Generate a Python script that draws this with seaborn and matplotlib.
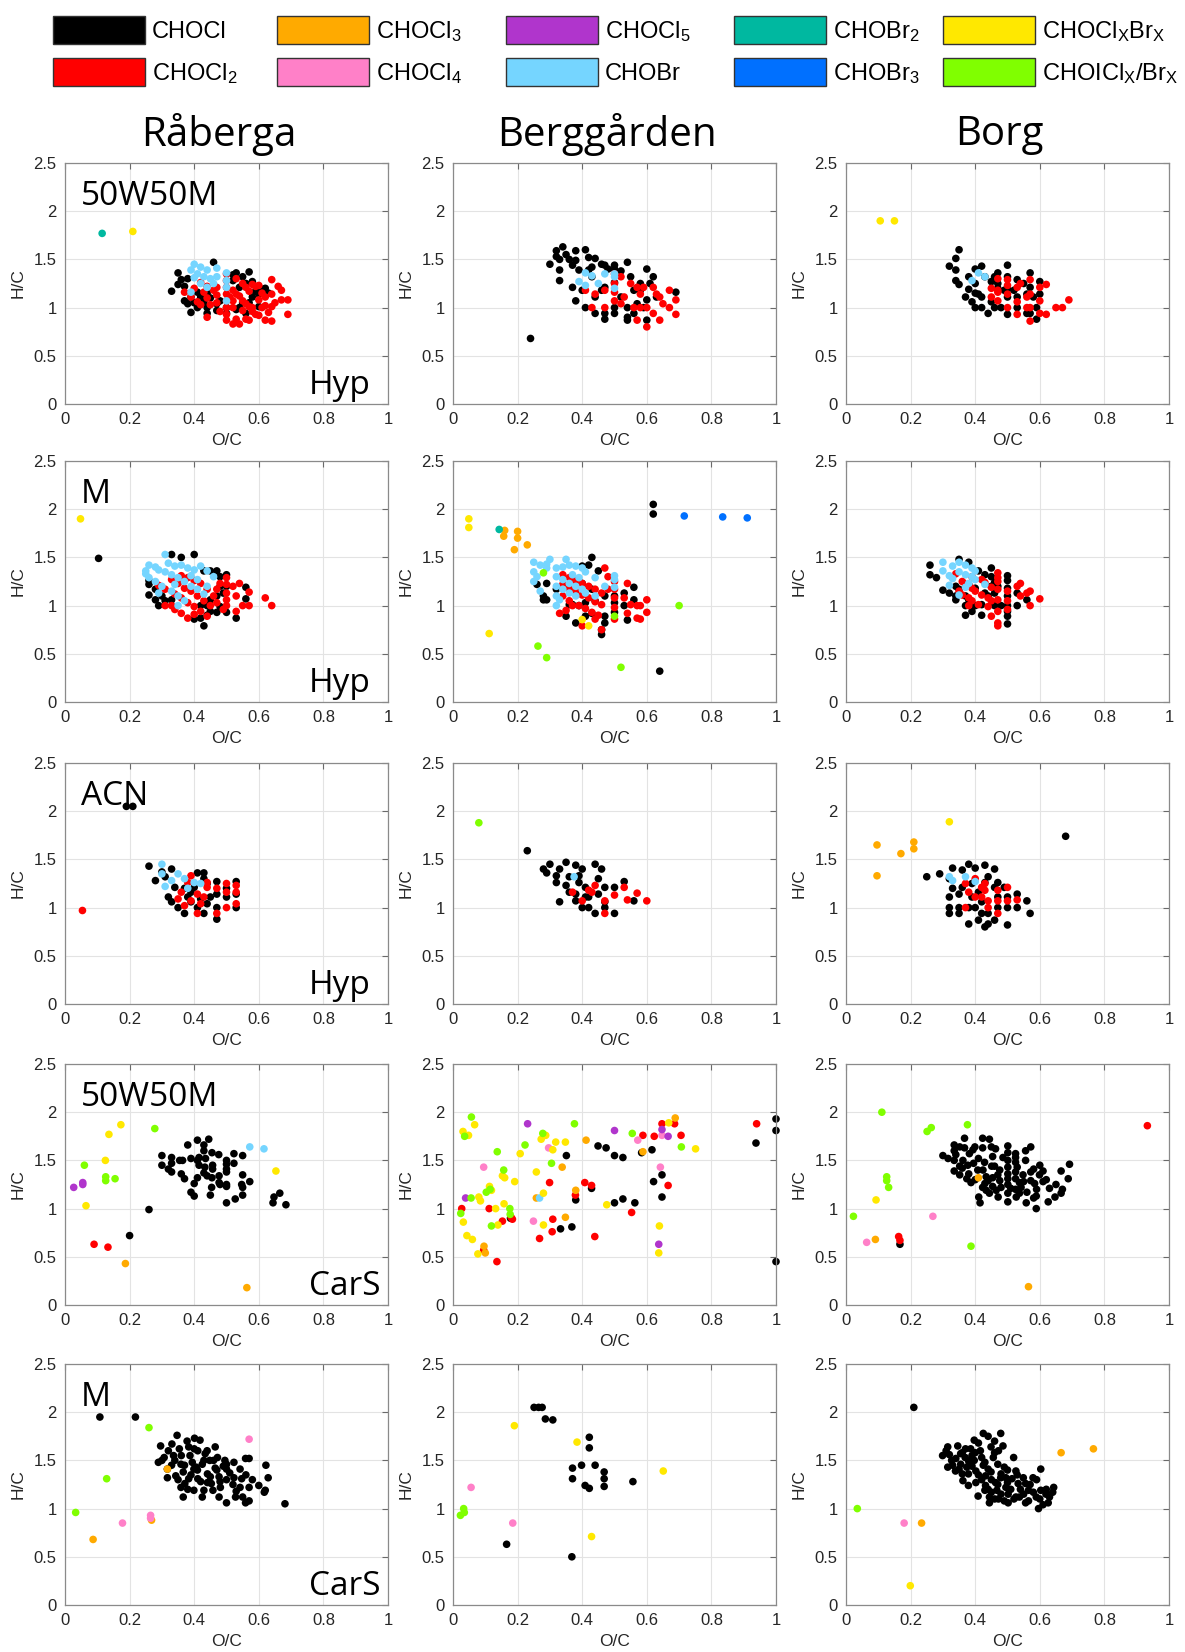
import matplotlib
matplotlib.use('Agg')
import matplotlib.pyplot as plt
import pandas as pd
import seaborn as sns
from matplotlib.patches import Rectangle

sns.set_theme(style='white')
plt.rcParams['font.family'] = ['Liberation Sans', 'DejaVu Sans']
plt.rcParams['mathtext.default'] = 'regular'

# ---------------- categories / labels ----------------
classes = ['CHOCl', 'CHOCl2', 'CHOCl3', 'CHOCl4', 'CHOCl5',
           'CHOBr', 'CHOBr2', 'CHOBr3', 'CHOClxBrx', 'CHOIClxBrx']
legend_labels = ['CHOCl', 'CHOCl$_2$', 'CHOCl$_3$', 'CHOCl$_4$', 'CHOCl$_5$',
                 'CHOBr', 'CHOBr$_2$', 'CHOBr$_3$', 'CHOCl$_X$Br$_X$', 'CHOICl$_X$/Br$_X$']
colors = ['#000000', '#FF0000', '#FFAA00', '#FF80C8', '#B035CC',
          '#75D5FF', '#00B8A0', '#0070FF', '#FFE800', '#80FF00']
sites = ['Råberga', 'Berggården', 'Borg']
solvents = ['50W50M', 'M', 'ACN', '50W50M', 'M']
methods = ['Hyp', 'Hyp', 'Hyp', 'CarS', 'CarS']
x_ticks = [0, 0.2, 0.4, 0.6, 0.8, 1]
x_ticklabels = ['0', '0.2', '0.4', '0.6', '0.8', '1']
y_ticks = [0, 0.5, 1, 1.5, 2, 2.5]
y_ticklabels = ['0', '0.5', '1', '1.5', '2', '2.5']

# ---------------- data: (O/C, H/C) ----------------
# Row 1: 50W50M Hyp
p11_CHOCl = [(0.33,1.17),(0.35,1.36),(0.35,1.24),(0.37,1.22),(0.37,1.07),(0.38,1.30),(0.39,0.95),(0.39,1.11),(0.41,1.00),(0.42,1.11),(0.44,0.94),(0.44,1.00),(0.46,1.47),(0.47,1.04),(0.50,0.94),(0.50,1.00),(0.53,1.36),(0.55,1.32),(0.57,1.37),(0.54,1.21),(0.54,1.00),(0.56,0.94),(0.58,1.11),(0.60,1.14),(0.62,1.20),(0.60,1.01),(0.40,1.05),(0.43,1.06),(0.56,1.25),(0.59,1.17),(0.52,1.28),(0.55,1.05),(0.45,1.10),(0.36,1.29),(0.38,1.04),(0.41,1.16),(0.44,1.15),(0.48,1.07),(0.52,1.34),(0.58,1.27),(0.61,1.19),(0.63,1.15),(0.47,0.97),(0.53,0.98),(0.57,1.05)]
p11_CHOCl2 = [(0.37,1.16),(0.39,1.11),(0.41,1.06),(0.42,1.26),(0.44,1.22),(0.44,1.10),(0.44,0.90),(0.46,1.18),(0.47,1.21),(0.47,1.05),(0.50,1.35),(0.50,1.28),(0.50,1.21),(0.50,1.14),(0.50,1.07),(0.50,1.00),(0.50,0.93),(0.50,0.87),(0.52,1.07),(0.52,0.83),(0.53,1.14),(0.55,1.07),(0.55,0.97),(0.56,1.21),(0.57,0.87),(0.58,1.24),(0.59,0.93),(0.60,1.23),(0.61,1.00),(0.62,1.02),(0.62,0.87),(0.64,1.01),(0.64,0.86),(0.64,1.29),(0.64,1.14),(0.67,1.18),(0.67,1.08),(0.69,1.08),(0.69,0.93),(0.53,1.30),(0.55,1.25),(0.57,1.17),(0.58,1.00),(0.62,1.11),(0.40,1.20),(0.43,1.16),(0.52,1.00),(0.60,1.08),(0.51,1.11),(0.52,1.18),(0.54,1.12),(0.56,1.04),(0.57,1.01),(0.58,0.96),(0.60,0.92),(0.63,0.95),(0.65,1.05),(0.66,1.22),(0.61,1.15),(0.59,1.22),(0.47,1.13),(0.45,1.03),(0.42,1.03),(0.48,0.96),(0.54,0.83),(0.53,0.88),(0.56,0.88)]
p11_CHOBr = [(0.39,1.39),(0.40,1.45),(0.42,1.42),(0.44,1.39),(0.47,1.41),(0.50,1.36),(0.50,1.28),(0.50,1.21),(0.50,1.07),(0.40,1.31),(0.42,1.25),(0.44,1.21),(0.46,1.25),(0.43,1.32),(0.39,1.16),(0.47,1.32),(0.41,1.35),(0.45,1.30)]
p11_CHOBr2 = [(0.115,1.77)]
p11_CHOClxBrx = [(0.21,1.79)]

p12_CHOCl = [(0.30,1.45),(0.32,1.53),(0.33,1.50),(0.33,1.39),(0.33,1.28),(0.34,1.63),(0.35,1.55),(0.37,1.44),(0.37,1.21),(0.38,1.07),(0.38,1.59),(0.38,1.49),(0.39,1.39),(0.40,1.18),(0.41,1.60),(0.42,1.52),(0.43,1.42),(0.43,1.32),(0.44,1.11),(0.44,1.51),(0.46,1.45),(0.47,1.44),(0.48,1.40),(0.47,1.21),(0.44,0.94),(0.47,0.94),(0.47,0.88),(0.50,1.44),(0.50,1.40),(0.50,1.00),(0.50,0.94),(0.52,1.11),(0.54,1.47),(0.54,0.90),(0.54,0.87),(0.56,1.18),(0.56,0.94),(0.58,1.25),(0.60,1.40),(0.59,1.00),(0.60,0.87),(0.62,1.32),(0.63,1.11),(0.69,1.16),(0.24,0.68),(0.42,1.39),(0.50,1.26),(0.55,1.32),(0.57,1.04),(0.58,1.18),(0.61,1.25),(0.46,1.18),(0.41,1.00),(0.54,1.00),(0.32,1.59),(0.36,1.50),(0.52,1.38),(0.60,1.08)]
p12_CHOCl2 = [(0.41,1.18),(0.44,1.14),(0.47,1.18),(0.47,1.00),(0.50,1.35),(0.50,1.25),(0.50,1.16),(0.50,1.07),(0.52,1.04),(0.53,1.11),(0.55,1.25),(0.57,1.21),(0.58,1.14),(0.59,1.21),(0.62,1.21),(0.64,1.11),(0.65,1.04),(0.67,1.18),(0.67,1.00),(0.69,1.08),(0.69,0.93),(0.57,0.87),(0.60,0.80),(0.62,0.94),(0.64,0.87),(0.56,1.00),(0.58,1.00),(0.60,1.00),(0.43,1.00),(0.52,1.32),(0.63,1.14)]
p12_CHOBr = [(0.39,1.27),(0.41,1.36),(0.43,1.33),(0.45,1.25),(0.47,1.35),(0.50,1.35),(0.50,1.32),(0.50,1.20),(0.41,1.23)]

p13_CHOCl = [(0.35,1.60),(0.34,1.51),(0.32,1.43),(0.34,1.39),(0.34,1.28),(0.35,1.24),(0.38,1.32),(0.37,1.11),(0.38,1.19),(0.39,1.06),(0.40,1.40),(0.40,1.25),(0.40,1.15),(0.40,1.00),(0.41,1.14),(0.42,1.43),(0.42,1.11),(0.42,1.00),(0.43,1.32),(0.44,0.94),(0.45,1.27),(0.46,1.32),(0.47,1.25),(0.47,1.36),(0.47,1.20),(0.46,1.00),(0.48,1.00),(0.50,1.44),(0.50,1.32),(0.50,1.19),(0.50,1.11),(0.50,0.93),(0.53,1.29),(0.53,1.11),(0.53,1.00),(0.55,1.25),(0.56,1.14),(0.56,0.94),(0.57,1.36),(0.57,1.21),(0.58,1.11),(0.59,1.00),(0.60,1.27),(0.60,1.14),(0.59,0.88),(0.57,0.94),(0.45,1.06),(0.49,1.18),(0.52,1.18)]
p13_CHOCl2 = [(0.47,1.30),(0.45,1.20),(0.45,1.11),(0.47,1.07),(0.47,1.16),(0.50,1.29),(0.50,1.23),(0.50,1.14),(0.50,1.00),(0.53,0.93),(0.53,1.21),(0.54,1.25),(0.53,1.06),(0.56,1.11),(0.57,1.14),(0.57,1.29),(0.57,1.00),(0.57,0.86),(0.60,1.21),(0.60,1.07),(0.60,0.94),(0.62,1.24),(0.62,0.93),(0.65,1.00),(0.67,1.00),(0.69,1.08),(0.47,1.18),(0.56,1.00)]
p13_CHOBr = [(0.39,1.28),(0.41,1.36),(0.43,1.32)]
p13_CHOClxBrx = [(0.106,1.90),(0.15,1.90)]

# Row 2: M Hyp
p21_CHOCl = [(0.104,1.49),(0.26,1.26),(0.26,1.22),(0.26,1.11),(0.28,1.06),(0.29,1.00),(0.31,1.05),(0.33,1.53),(0.40,1.53),(0.36,1.50),(0.43,1.36),(0.45,1.36),(0.47,1.36),(0.48,1.30),(0.50,1.32),(0.48,1.20),(0.48,0.99),(0.47,0.93),(0.45,0.94),(0.44,0.90),(0.42,0.87),(0.40,0.86),(0.43,0.79),(0.50,0.93),(0.53,0.87),(0.56,1.19),(0.56,1.07),(0.50,1.20),(0.49,1.13),(0.47,1.10),(0.45,1.06),(0.33,1.06),(0.28,1.17),(0.30,1.10),(0.44,1.00),(0.42,1.00)]
p21_CHOCl2 = [(0.29,1.21),(0.31,1.17),(0.34,1.12),(0.36,1.08),(0.38,1.03),(0.40,0.99),(0.42,0.94),(0.44,0.89),(0.33,1.27),(0.35,1.23),(0.37,1.18),(0.39,1.15),(0.41,1.10),(0.43,1.05),(0.45,1.00),(0.47,1.17),(0.36,1.31),(0.38,1.29),(0.40,1.26),(0.42,1.23),(0.44,1.17),(0.46,1.10),(0.48,1.23),(0.50,1.29),(0.50,1.22),(0.50,1.13),(0.50,1.06),(0.50,1.00),(0.52,1.20),(0.53,1.10),(0.54,1.23),(0.53,0.94),(0.55,1.00),(0.57,1.14),(0.57,1.00),(0.62,1.08),(0.64,1.00),(0.38,0.87),(0.40,0.91),(0.31,1.00),(0.34,0.96),(0.36,0.92),(0.33,1.00),(0.47,1.03),(0.49,0.96)]
p21_CHOBr = [(0.25,1.36),(0.26,1.42),(0.28,1.40),(0.29,1.37),(0.31,1.35),(0.33,1.32),(0.35,1.29),(0.37,1.25),(0.39,1.20),(0.41,1.17),(0.43,1.12),(0.31,1.53),(0.34,1.41),(0.36,1.42),(0.38,1.39),(0.40,1.37),(0.42,1.41),(0.44,1.36),(0.46,1.30),(0.26,1.29),(0.28,1.25),(0.30,1.20),(0.33,1.15),(0.35,1.10),(0.37,1.05),(0.35,1.00),(0.29,1.13),(0.39,1.31),(0.41,1.27),(0.44,1.20),(0.25,1.33),(0.32,1.44),(0.34,1.22)]
p21_CHOClxBrx = [(0.048,1.90)]

p22_CHOCl = [(0.62,2.05),(0.62,1.95),(0.64,0.32),(0.43,1.50),(0.42,1.42),(0.40,1.41),(0.26,1.22),(0.28,1.06),(0.29,1.23),(0.56,1.19),(0.56,1.06),(0.53,1.13),(0.53,1.00),(0.50,1.10),(0.50,1.03),(0.50,0.93),(0.54,0.85),(0.47,0.89),(0.47,0.82),(0.46,0.75),(0.46,0.70),(0.38,0.82),(0.41,0.89),(0.43,0.92),(0.35,0.89),(0.36,1.01),(0.37,1.01),(0.39,1.00),(0.41,1.03),(0.44,1.05),(0.47,1.10),(0.43,1.17),(0.40,1.23),(0.37,1.27),(0.29,1.06),(0.32,1.17),(0.28,1.10),(0.45,1.36)]
p22_CHOCl2 = [(0.34,1.32),(0.36,1.29),(0.38,1.26),(0.40,1.23),(0.42,1.20),(0.44,1.17),(0.46,1.13),(0.34,1.22),(0.36,1.18),(0.38,1.15),(0.40,1.11),(0.42,1.08),(0.44,1.04),(0.46,1.01),(0.34,1.10),(0.36,1.05),(0.37,1.00),(0.39,1.00),(0.41,0.97),(0.43,0.93),(0.45,0.90),(0.47,1.39),(0.48,1.30),(0.48,1.17),(0.50,1.25),(0.50,1.17),(0.50,1.08),(0.50,0.98),(0.50,0.86),(0.54,1.23),(0.53,1.08),(0.54,0.92),(0.55,1.01),(0.57,1.00),(0.58,1.00),(0.60,1.06),(0.60,0.93),(0.57,0.87),(0.58,0.86),(0.40,0.79),(0.44,0.86),(0.46,0.75),(0.33,0.92),(0.35,0.95)]
p22_CHOCl3 = [(0.16,1.78),(0.157,1.72),(0.20,1.77),(0.20,1.70),(0.19,1.58),(0.23,1.63)]
p22_CHOBr = [(0.25,1.45),(0.27,1.42),(0.29,1.39),(0.32,1.39),(0.34,1.40),(0.36,1.42),(0.38,1.41),(0.40,1.39),(0.25,1.25),(0.26,1.30),(0.25,1.35),(0.30,1.48),(0.29,1.43),(0.32,1.30),(0.32,1.20),(0.32,1.10),(0.32,1.00),(0.34,1.27),(0.34,1.17),(0.36,1.23),(0.36,1.13),(0.38,1.20),(0.38,1.10),(0.40,1.17),(0.41,1.13),(0.44,1.10),(0.41,1.35),(0.44,1.29),(0.47,1.20),(0.50,1.31),(0.50,1.27),(0.50,1.19),(0.27,1.15),(0.35,1.48),(0.37,1.32),(0.39,1.29),(0.33,1.06)]
p22_CHOBr2 = [(0.143,1.79)]
p22_CHOBr3 = [(0.716,1.93),(0.835,1.92),(0.911,1.91)]
p22_CHOClxBrx = [(0.049,1.90),(0.049,1.81),(0.112,0.71),(0.40,0.855),(0.42,0.79)]
p22_CHOIClxBrx = [(0.28,1.34),(0.263,0.58),(0.29,0.46),(0.52,0.36),(0.70,1.00),(0.50,0.89)]

p23_CHOCl = [(0.26,1.42),(0.26,1.32),(0.28,1.29),(0.30,1.16),(0.32,1.13),(0.34,1.10),(0.34,1.06),(0.35,1.48),(0.38,1.45),(0.34,1.20),(0.35,1.17),(0.37,1.10),(0.37,1.00),(0.37,0.90),(0.39,0.94),(0.40,1.00),(0.42,0.90),(0.41,1.36),(0.45,1.39),(0.43,1.32),(0.46,1.24),(0.46,1.13),(0.46,1.00),(0.48,1.00),(0.50,1.31),(0.50,1.26),(0.50,1.18),(0.50,1.10),(0.50,1.00),(0.50,0.94),(0.50,0.89),(0.50,0.81),(0.53,1.13),(0.53,1.00),(0.56,1.06),(0.38,1.22),(0.40,1.18),(0.43,1.13),(0.44,1.10),(0.38,1.06),(0.42,1.01),(0.45,1.20),(0.47,1.20),(0.45,1.30)]
p23_CHOCl2 = [(0.34,1.33),(0.36,1.25),(0.37,1.22),(0.39,1.18),(0.40,1.15),(0.42,1.11),(0.44,1.08),(0.45,1.05),(0.35,1.15),(0.36,1.11),(0.38,1.08),(0.39,1.05),(0.41,1.01),(0.44,0.99),(0.38,1.00),(0.39,1.30),(0.42,1.27),(0.43,1.24),(0.45,1.19),(0.47,1.34),(0.47,1.29),(0.47,1.17),(0.47,1.06),(0.47,0.94),(0.47,0.82),(0.47,0.79),(0.45,0.89),(0.50,1.15),(0.50,1.05),(0.50,0.96),(0.53,1.20),(0.54,1.23),(0.54,1.10),(0.56,1.13),(0.57,1.15),(0.57,1.00),(0.60,1.07),(0.47,1.25)]
p23_CHOBr = [(0.30,1.45),(0.30,1.36),(0.33,1.41),(0.35,1.45),(0.37,1.42),(0.32,1.31),(0.33,1.28),(0.35,1.35),(0.37,1.32),(0.39,1.39),(0.40,1.36),(0.39,1.30),(0.38,1.23),(0.37,1.19),(0.32,1.21),(0.35,1.11),(0.43,1.22),(0.40,1.27)]

# Row 3: ACN Hyp
p31_CHOCl = [(0.19,2.05),(0.21,2.05),(0.26,1.43),(0.28,1.28),(0.30,1.37),(0.31,1.32),(0.33,1.40),(0.32,1.11),(0.33,1.06),(0.35,1.00),(0.37,0.94),(0.38,1.11),(0.39,1.16),(0.40,1.21),(0.41,1.36),(0.43,1.36),(0.43,1.30),(0.44,1.25),(0.47,1.27),(0.47,1.14),(0.47,1.00),(0.47,0.88),(0.50,1.20),(0.50,1.11),(0.53,1.27),(0.53,1.14),(0.53,1.00),(0.43,0.94),(0.41,1.00),(0.34,1.21),(0.39,1.06),(0.42,1.09),(0.45,1.11),(0.44,1.04),(0.37,1.20)]
p31_CHOCl2 = [(0.054,0.97),(0.35,1.09),(0.36,1.16),(0.38,1.26),(0.39,1.33),(0.41,1.14),(0.42,1.04),(0.41,0.94),(0.44,1.21),(0.44,1.26),(0.47,1.20),(0.50,1.25),(0.50,1.00),(0.50,1.16),(0.53,1.23),(0.53,1.16),(0.53,1.04),(0.47,0.94),(0.37,1.02),(0.43,1.11),(0.39,1.07)]
p31_CHOBr = [(0.30,1.45),(0.30,1.35),(0.31,1.22),(0.33,1.28),(0.35,1.35),(0.37,1.30),(0.40,1.26),(0.42,1.25),(0.38,1.20)]

p32_CHOCl = [(0.23,1.59),(0.28,1.40),(0.30,1.45),(0.29,1.36),(0.32,1.33),(0.33,1.40),(0.35,1.47),(0.32,1.26),(0.35,1.23),(0.33,1.06),(0.36,1.32),(0.38,1.44),(0.39,1.33),(0.39,1.26),(0.38,1.14),(0.40,1.40),(0.41,1.21),(0.41,1.11),(0.42,1.00),(0.44,1.45),(0.45,1.30),(0.45,1.14),(0.46,1.40),(0.47,1.21),(0.47,1.00),(0.50,1.21),(0.50,0.94),(0.53,1.27),(0.44,0.94),(0.40,1.00),(0.42,1.11),(0.36,1.16),(0.38,1.07),(0.47,1.06),(0.56,1.07)]
p32_CHOCl2 = [(0.37,1.16),(0.42,1.18),(0.40,1.07),(0.44,1.23),(0.47,1.07),(0.47,0.94),(0.50,1.13),(0.53,1.21),(0.54,1.08),(0.57,1.15),(0.60,1.07),(0.43,1.16)]
p32_CHOBr = [(0.375,1.32)]
p32_CHOIClxBrx = [(0.08,1.88)]

p33_CHOCl = [(0.68,1.74),(0.25,1.32),(0.29,1.35),(0.32,1.30),(0.33,1.41),(0.33,1.20),(0.32,1.11),(0.32,1.00),(0.32,0.94),(0.35,1.14),(0.35,1.00),(0.35,0.94),(0.36,1.39),(0.38,1.45),(0.39,1.25),(0.39,1.11),(0.38,1.00),(0.38,0.83),(0.40,1.41),(0.41,1.16),(0.42,1.06),(0.42,0.94),(0.43,1.44),(0.44,1.32),(0.46,1.21),(0.46,1.40),(0.47,1.00),(0.47,1.26),(0.44,0.94),(0.43,0.80),(0.44,0.83),(0.46,0.87),(0.47,1.11),(0.50,1.00),(0.50,0.82),(0.50,1.11),(0.53,1.14),(0.53,1.00),(0.56,1.07),(0.57,0.94),(0.40,1.00),(0.43,1.26),(0.49,1.21),(0.36,1.21),(0.41,0.87)]
p33_CHOCl2 = [(0.37,1.25),(0.38,1.16),(0.40,1.30),(0.42,1.21),(0.42,1.11),(0.43,1.18),(0.44,1.07),(0.43,1.25),(0.44,1.00),(0.47,0.94),(0.47,1.18),(0.50,1.21),(0.50,1.07),(0.53,1.08),(0.47,1.07),(0.37,1.00),(0.40,1.11)]
p33_CHOCl3 = [(0.096,1.65),(0.096,1.33),(0.17,1.56),(0.21,1.68),(0.21,1.61)]
p33_CHOBr = [(0.32,1.32),(0.33,1.28),(0.37,1.32),(0.40,1.27)]
p33_CHOClxBrx = [(0.32,1.89)]

# Row 4: 50W50M CarS
p41_CHOCl = [(0.26,0.99),(0.20,0.72),(0.30,1.55),(0.30,1.45),(0.32,1.41),(0.33,1.53),(0.33,1.47),(0.33,1.38),(0.355,1.50),(0.364,1.50),(0.36,1.36),(0.37,1.31),(0.38,1.66),(0.39,1.52),(0.40,1.26),(0.39,1.17),(0.40,1.13),(0.41,1.71),(0.41,1.50),(0.415,1.53),(0.41,1.32),(0.43,1.66),(0.43,1.60),(0.435,1.52),(0.433,1.43),(0.43,1.37),(0.44,1.34),(0.445,1.72),(0.455,1.58),(0.457,1.45),(0.457,1.41),(0.455,1.32),(0.454,1.22),(0.45,1.14),(0.476,1.56),(0.477,1.34),(0.477,1.27),(0.48,1.25),(0.50,1.50),(0.50,1.46),(0.50,1.41),(0.50,1.38),(0.50,1.25),(0.50,1.23),(0.50,1.06),(0.523,1.57),(0.523,1.47),(0.527,1.10),(0.55,1.55),(0.55,1.35),(0.547,1.25),(0.55,1.22),(0.55,1.14),(0.572,1.28),(0.644,1.06),(0.647,1.12),(0.665,1.16),(0.684,1.04),(0.415,1.45)]
p41_CHOCl2 = [(0.09,0.63),(0.133,0.60)]
p41_CHOCl3 = [(0.187,0.43),(0.563,0.18)]
p41_CHOCl5 = [(0.027,1.22),(0.055,1.27),(0.055,1.25)]
p41_CHOBr = [(0.572,1.64),(0.616,1.62)]
p41_CHOClxBrx = [(0.173,1.87),(0.136,1.77),(0.125,1.50),(0.065,1.03),(0.653,1.39)]
p41_CHOIClxBrx = [(0.278,1.83),(0.06,1.45),(0.126,1.33),(0.126,1.29),(0.155,1.31)]

p42_CHOCl = [(0.178,0.90),(0.333,0.79),(0.368,0.81),(0.351,1.55),(0.38,1.09),(0.429,1.21),(0.449,1.65),(0.474,1.63),(0.50,1.55),(0.526,1.53),(0.50,1.06),(0.526,1.10),(0.563,1.06),(0.584,1.58),(0.616,1.61),(0.621,1.28),(0.647,1.35),(0.647,1.12),(0.938,1.68),(1.0,1.93),(1.0,1.81),(1.0,0.45)]
p42_CHOCl2 = [(0.027,1.00),(0.095,0.57),(0.112,1.00),(0.136,0.45),(0.153,0.87),(0.184,0.89),(0.18,0.91),(0.268,0.69),(0.299,1.27),(0.309,0.89),(0.307,0.76),(0.379,1.14),(0.408,1.27),(0.429,1.24),(0.439,0.71),(0.553,0.96),(0.588,1.76),(0.623,1.75),(0.647,1.88),(0.686,1.88),(0.706,1.76),(0.666,1.24),(0.94,1.88)]
p42_CHOCl3 = [(0.096,0.61),(0.10,0.54),(0.258,1.11),(0.338,1.43),(0.348,0.91),(0.38,1.19),(0.412,1.71),(0.588,1.59),(0.688,1.94)]
p42_CHOCl4 = [(0.095,1.43),(0.249,0.87),(0.296,1.63),(0.572,1.71),(0.642,1.43),(0.647,1.76)]
p42_CHOCl5 = [(0.039,1.11),(0.231,1.88),(0.50,1.81),(0.647,1.82),(0.666,1.75),(0.637,0.63)]
p42_CHOBr = [(0.268,1.11)]
p42_CHOClxBrx = [(0.031,1.80),(0.048,1.76),(0.067,1.87),(0.032,0.86),(0.043,0.72),(0.06,0.68),(0.077,0.53),(0.08,1.12),(0.085,1.08),(0.113,1.23),(0.119,1.19),(0.132,1.00),(0.139,0.83),(0.153,1.34),(0.16,1.32),(0.158,1.05),(0.191,1.28),(0.208,1.57),(0.258,1.38),(0.273,1.72),(0.287,1.76),(0.28,1.16),(0.28,0.83),(0.309,1.61),(0.318,1.69),(0.348,1.69),(0.476,1.04),(0.639,0.82),(0.637,0.54),(0.668,1.89),(0.751,1.62)]
p42_CHOIClxBrx = [(0.057,1.95),(0.036,1.75),(0.024,0.95),(0.056,1.11),(0.103,1.17),(0.115,1.20),(0.119,0.82),(0.137,1.59),(0.157,1.40),(0.176,1.00),(0.177,0.94),(0.223,1.66),(0.278,1.78),(0.305,1.47),(0.376,1.88),(0.555,1.78),(0.707,1.64)]

p43_CHOCl = [(0.167,0.63),(0.30,1.55),(0.316,1.52),(0.335,1.66),(0.335,1.60),(0.335,1.50),(0.335,1.39),(0.352,1.64),(0.352,1.44),(0.352,1.35),(0.367,1.73),(0.367,1.63),(0.362,1.50),(0.374,1.31),(0.377,1.45),(0.387,1.27),(0.393,1.61),(0.399,1.64),(0.382,1.57),(0.395,1.47),(0.408,1.40),(0.411,1.12),(0.423,1.73),(0.423,1.63),(0.429,1.48),(0.424,1.40),(0.423,1.22),(0.434,1.19),(0.444,1.72),(0.45,1.64),(0.454,1.54),(0.451,1.44),(0.454,1.23),(0.454,1.32),(0.463,1.62),(0.434,1.33),(0.444,1.16),(0.415,1.06),(0.465,1.19),(0.471,1.12),(0.476,1.29),(0.501,1.65),(0.501,1.58),(0.501,1.50),(0.501,1.43),(0.501,1.36),(0.501,1.31),(0.501,1.25),(0.501,1.16),(0.501,1.07),(0.525,1.57),(0.525,1.53),(0.525,1.48),(0.525,1.38),(0.525,1.31),(0.525,1.20),(0.527,1.12),(0.537,1.16),(0.542,1.22),(0.548,1.35),(0.556,1.60),(0.556,1.50),(0.558,1.06),(0.572,1.64),(0.572,1.38),(0.572,1.29),(0.581,1.41),(0.581,1.11),(0.589,1.13),(0.589,1.00),(0.584,1.26),(0.61,1.39),(0.61,1.28),(0.626,1.07),(0.63,1.21),(0.647,1.12),(0.666,1.16),(0.666,1.39),(0.688,1.31),(0.692,1.46),(0.599,1.35),(0.537,1.27),(0.476,1.40),(0.486,1.53),(0.34,1.56),(0.36,1.42),(0.38,1.36),(0.40,1.30),(0.41,1.52),(0.44,1.29),(0.46,1.44),(0.48,1.22),(0.51,1.21),(0.53,1.43),(0.55,1.28),(0.56,1.17),(0.59,1.20),(0.60,1.45),(0.62,1.30),(0.65,1.25),(0.67,1.20),(0.47,1.35),(0.43,1.26)]
p43_CHOCl2 = [(0.163,0.71),(0.167,0.67),(0.933,1.86)]
p43_CHOCl3 = [(0.091,0.68),(0.41,1.32),(0.565,0.19)]
p43_CHOCl4 = [(0.064,0.65),(0.269,0.92)]
p43_CHOClxBrx = [(0.093,1.09)]
p43_CHOIClxBrx = [(0.111,2.00),(0.251,1.80),(0.264,1.84),(0.376,1.87),(0.023,0.92),(0.126,1.33),(0.126,1.29),(0.132,1.22),(0.387,0.61)]

# Row 5: M CarS
p51_CHOCl = [(0.108,1.95),(0.218,1.95),(0.296,1.65),(0.307,1.53),(0.289,1.48),(0.317,1.41),(0.317,1.32),(0.331,1.67),(0.336,1.55),(0.34,1.50),(0.347,1.76),(0.354,1.62),(0.359,1.46),(0.366,1.38),(0.366,1.12),(0.371,1.26),(0.378,1.70),(0.383,1.64),(0.387,1.55),(0.394,1.48),(0.399,1.41),(0.401,1.73),(0.411,1.60),(0.411,1.31),(0.418,1.71),(0.425,1.46),(0.425,1.12),(0.43,1.19),(0.434,1.57),(0.441,1.36),(0.448,1.50),(0.453,1.26),(0.465,1.42),(0.472,1.53),(0.477,1.33),(0.477,1.12),(0.481,1.22),(0.495,1.50),(0.50,1.41),(0.50,1.30),(0.50,1.06),(0.523,1.48),(0.523,1.32),(0.528,1.12),(0.542,1.22),(0.547,1.31),(0.559,1.52),(0.559,1.06),(0.57,1.52),(0.57,1.22),(0.57,1.08),(0.622,1.45),(0.629,1.32),(0.617,1.17),(0.681,1.05),(0.406,1.43),(0.383,1.31),(0.399,1.19),(0.465,1.64),(0.359,1.22),(0.441,1.27),(0.50,1.46),(0.542,1.41),(0.458,1.19),(0.343,1.34),(0.30,1.50),(0.32,1.60),(0.33,1.45),(0.35,1.30),(0.36,1.55),(0.37,1.45),(0.38,1.20),(0.39,1.35),(0.40,1.62),(0.41,1.40),(0.42,1.28),(0.43,1.50),(0.44,1.60),(0.45,1.33),(0.46,1.50),(0.47,1.40),(0.48,1.28),(0.49,1.44),(0.51,1.37),(0.52,1.25),(0.53,1.18),(0.55,1.12),(0.56,1.35),(0.58,1.30),(0.60,1.24),(0.62,1.19)]
p51_CHOCl3 = [(0.317,1.41),(0.087,0.68),(0.268,0.88)]
p51_CHOCl4 = [(0.57,1.72),(0.178,0.85),(0.265,0.93),(0.265,0.90)]
p51_CHOIClxBrx = [(0.26,1.84),(0.129,1.31),(0.033,0.96)]

p52_CHOCl = [(0.251,2.05),(0.265,2.05),(0.276,2.05),(0.286,1.93),(0.309,1.92),(0.422,1.74),(0.422,1.63),(0.37,1.42),(0.37,1.31),(0.398,1.45),(0.409,1.24),(0.422,1.21),(0.44,1.45),(0.468,1.38),(0.468,1.31),(0.468,1.23),(0.557,1.28),(0.166,0.63),(0.368,0.50)]
p52_CHOCl4 = [(0.056,1.22),(0.185,0.85)]
p52_CHOClxBrx = [(0.19,1.86),(0.384,1.69),(0.651,1.39),(0.429,0.71)]
p52_CHOIClxBrx = [(0.023,0.93),(0.033,1.00),(0.035,0.96)]

p53_CHOCl = [(0.21,2.05),(0.299,1.55),(0.315,1.64),(0.315,1.43),(0.327,1.50),(0.339,1.39),(0.346,1.65),(0.355,1.57),(0.355,1.46),(0.369,1.53),(0.374,1.43),(0.379,1.36),(0.386,1.62),(0.397,1.71),(0.397,1.50),(0.402,1.39),(0.402,1.27),(0.409,1.13),(0.416,1.60),(0.42,1.53),(0.425,1.78),(0.425,1.45),(0.432,1.34),(0.432,1.24),(0.444,1.12),(0.444,1.06),(0.449,1.64),(0.449,1.38),(0.456,1.53),(0.463,1.27),(0.467,1.19),(0.472,1.60),(0.472,1.10),(0.479,1.78),(0.486,1.65),(0.49,1.43),(0.495,1.32),(0.495,1.22),(0.502,1.06),(0.502,1.15),(0.519,1.53),(0.526,1.39),(0.533,1.26),(0.537,1.12),(0.556,1.26),(0.556,1.06),(0.565,1.19),(0.579,1.32),(0.589,1.12),(0.596,1.00),(0.603,1.41),(0.603,1.19),(0.619,1.15),(0.626,1.06),(0.643,1.22),(0.63,1.12),(0.379,1.24),(0.362,1.29),(0.514,1.31),(0.549,1.32),(0.526,1.12),(0.565,1.08),(0.479,1.32),(0.44,1.20),(0.46,1.10),(0.31,1.60),(0.32,1.56),(0.33,1.45),(0.34,1.52),(0.35,1.41),(0.36,1.36),(0.37,1.62),(0.38,1.49),(0.39,1.44),(0.40,1.58),(0.41,1.35),(0.41,1.68),(0.42,1.30),(0.43,1.19),(0.43,1.48),(0.44,1.41),(0.45,1.30),(0.45,1.17),(0.46,1.58),(0.47,1.46),(0.47,1.25),(0.48,1.36),(0.48,1.15),(0.49,1.08),(0.50,1.40),(0.50,1.27),(0.51,1.20),(0.52,1.10),(0.53,1.35),(0.54,1.20),(0.55,1.15),(0.57,1.25),(0.58,1.17),(0.59,1.30),(0.60,1.10),(0.61,1.04),(0.62,1.20),(0.64,1.17),(0.44,1.75),(0.46,1.70),(0.39,1.55),(0.36,1.58)]
p53_CHOCl3 = [(0.234,0.85),(0.666,1.58),(0.766,1.62)]
p53_CHOCl4 = [(0.18,0.85)]
p53_CHOClxBrx = [(0.199,0.20)]
p53_CHOIClxBrx = [(0.035,1.00)]

panels = {
    (0, 0): {'CHOCl': p11_CHOCl, 'CHOCl2': p11_CHOCl2, 'CHOBr': p11_CHOBr, 'CHOBr2': p11_CHOBr2, 'CHOClxBrx': p11_CHOClxBrx},
    (0, 1): {'CHOCl': p12_CHOCl, 'CHOCl2': p12_CHOCl2, 'CHOBr': p12_CHOBr},
    (0, 2): {'CHOCl': p13_CHOCl, 'CHOCl2': p13_CHOCl2, 'CHOBr': p13_CHOBr, 'CHOClxBrx': p13_CHOClxBrx},
    (1, 0): {'CHOCl': p21_CHOCl, 'CHOCl2': p21_CHOCl2, 'CHOBr': p21_CHOBr, 'CHOClxBrx': p21_CHOClxBrx},
    (1, 1): {'CHOCl': p22_CHOCl, 'CHOCl2': p22_CHOCl2, 'CHOCl3': p22_CHOCl3, 'CHOBr': p22_CHOBr,
             'CHOBr2': p22_CHOBr2, 'CHOBr3': p22_CHOBr3, 'CHOClxBrx': p22_CHOClxBrx, 'CHOIClxBrx': p22_CHOIClxBrx},
    (1, 2): {'CHOCl': p23_CHOCl, 'CHOCl2': p23_CHOCl2, 'CHOBr': p23_CHOBr},
    (2, 0): {'CHOCl': p31_CHOCl, 'CHOCl2': p31_CHOCl2, 'CHOBr': p31_CHOBr},
    (2, 1): {'CHOCl': p32_CHOCl, 'CHOCl2': p32_CHOCl2, 'CHOBr': p32_CHOBr, 'CHOIClxBrx': p32_CHOIClxBrx},
    (2, 2): {'CHOCl': p33_CHOCl, 'CHOCl2': p33_CHOCl2, 'CHOCl3': p33_CHOCl3, 'CHOBr': p33_CHOBr, 'CHOClxBrx': p33_CHOClxBrx},
    (3, 0): {'CHOCl': p41_CHOCl, 'CHOCl2': p41_CHOCl2, 'CHOCl3': p41_CHOCl3, 'CHOCl5': p41_CHOCl5,
             'CHOBr': p41_CHOBr, 'CHOClxBrx': p41_CHOClxBrx, 'CHOIClxBrx': p41_CHOIClxBrx},
    (3, 1): {'CHOCl': p42_CHOCl, 'CHOCl2': p42_CHOCl2, 'CHOCl3': p42_CHOCl3, 'CHOCl4': p42_CHOCl4, 'CHOCl5': p42_CHOCl5,
             'CHOBr': p42_CHOBr, 'CHOClxBrx': p42_CHOClxBrx, 'CHOIClxBrx': p42_CHOIClxBrx},
    (3, 2): {'CHOCl': p43_CHOCl, 'CHOCl2': p43_CHOCl2, 'CHOCl3': p43_CHOCl3, 'CHOCl4': p43_CHOCl4,
             'CHOClxBrx': p43_CHOClxBrx, 'CHOIClxBrx': p43_CHOIClxBrx},
    (4, 0): {'CHOCl': p51_CHOCl, 'CHOCl3': p51_CHOCl3, 'CHOCl4': p51_CHOCl4, 'CHOIClxBrx': p51_CHOIClxBrx},
    (4, 1): {'CHOCl': p52_CHOCl, 'CHOCl4': p52_CHOCl4, 'CHOClxBrx': p52_CHOClxBrx, 'CHOIClxBrx': p52_CHOIClxBrx},
    (4, 2): {'CHOCl': p53_CHOCl, 'CHOCl3': p53_CHOCl3, 'CHOCl4': p53_CHOCl4, 'CHOClxBrx': p53_CHOClxBrx, 'CHOIClxBrx': p53_CHOIClxBrx},
}

# ---------------- figure ----------------
W, H = 1185, 1652
fig = plt.figure(figsize=(W / 100, H / 100), dpi=100)
palette = dict(zip(classes, colors))

col_left = [65, 453, 846]
row_top = [163, 461, 763, 1064, 1364]
ax_w, ax_h = 323, 241
text_col = '#262626'

for (r, c), pdata in panels.items():
    ax = fig.add_axes([col_left[c] / W, 1 - (row_top[r] + ax_h) / H, ax_w / W, ax_h / H])
    rows = []
    for cls in classes:
        for (x, y) in pdata.get(cls, []):
            rows.append((x, y, cls))
    df = pd.DataFrame(rows, columns=['OC', 'HC', 'cls'])
    sns.scatterplot(data=df, x='OC', y='HC', hue='cls', hue_order=classes, palette=palette,
                    s=30, linewidth=0, legend=False, ax=ax, clip_on=False)
    ax.set_xlim(0, 1)
    ax.set_ylim(0, 2.5)
    ax.set_xticks(x_ticks)
    ax.set_xticklabels(x_ticklabels)
    ax.set_yticks(y_ticks)
    ax.set_yticklabels(y_ticklabels)
    ax.grid(True, color='#e3e3e3', linewidth=0.8)
    ax.set_axisbelow(True)
    for sp in ax.spines.values():
        sp.set_color('#8a8a8a')
        sp.set_linewidth(0.9)
    ax.tick_params(direction='in', length=4, width=0.8, color='#6a6a6a', labelcolor=text_col,
                   labelsize=12, top=True, right=True, pad=6)
    ax.set_xlabel('O/C', fontsize=12.5, color=text_col, labelpad=4)
    ax.set_ylabel('H/C', fontsize=12.5, color=text_col, labelpad=6)
    if c == 0:
        ax.text(0.05, 0.825, solvents[r], transform=ax.transAxes, fontsize=24,
                family=['Open Sans', 'DejaVu Sans'], color='black', va='baseline')
        ax.text(0.755, 0.04, methods[r], transform=ax.transAxes, fontsize=24,
                family=['Open Sans', 'DejaVu Sans'], color='black', va='baseline')

# column titles
for c, site in enumerate(sites):
    cx = (col_left[c] + ax_w / 2 - 8) / W
    fig.text(cx, 1 - 135 / H, site, ha='center', va='center', fontsize=29,
             family=['Open Sans', 'DejaVu Sans'], color='black')

# legend (column-major order: 2 rows x 5 columns)
patch_x = [53, 277, 506, 734, 943]
patch_w = 92
patch_y = [16, 58]
patch_h = 28
for i, (cls, lab, col) in enumerate(zip(classes, legend_labels, colors)):
    cc, rr = i // 2, i % 2
    x0, y0 = patch_x[cc], patch_y[rr]
    fig.add_artist(Rectangle((x0 / W, 1 - (y0 + patch_h) / H), patch_w / W, patch_h / H,
                             transform=fig.transFigure, facecolor=col, edgecolor='#333333', linewidth=1))
    fig.text((x0 + patch_w + 7) / W, 1 - (y0 + patch_h / 2 + 2) / H, lab, ha='left', va='center',
             fontsize=17, color='black')

fig.savefig('out.png', dpi=100)
